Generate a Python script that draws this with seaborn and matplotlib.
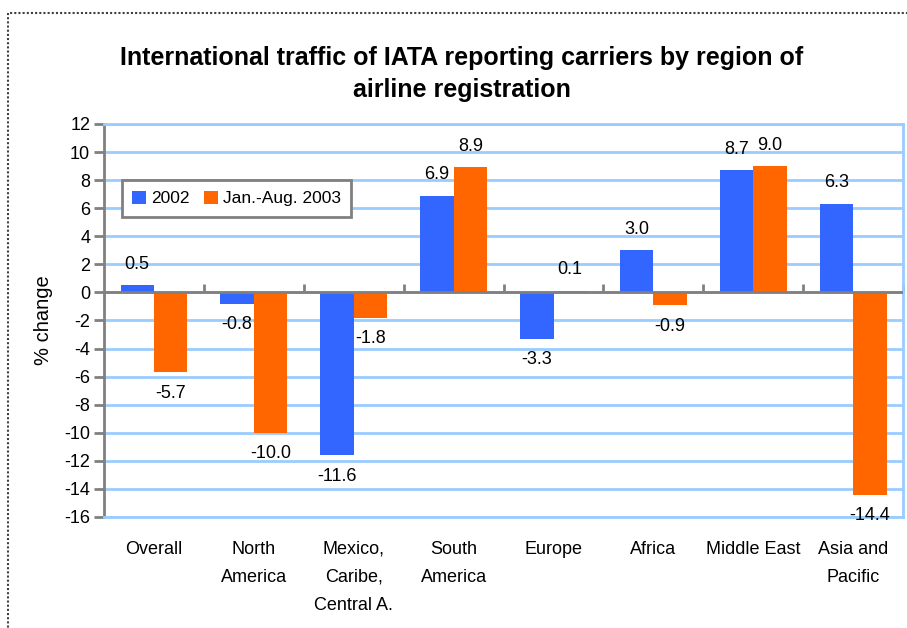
import matplotlib
matplotlib.use("Agg")
import matplotlib.pyplot as plt
import seaborn as sns
import pandas as pd
from matplotlib.patches import Rectangle

# data
regions = ["Overall", "North\nAmerica", "Mexico,\nCaribe,\nCentral A.", "South\nAmerica",
           "Europe", "Africa", "Middle East", "Asia and\nPacific"]
series = ["2002", "Jan.-Aug. 2003"]
change_2002 = [0.5, -0.8, -11.6, 6.9, -3.3, 3.0, 8.7, 6.3]
change_2003 = [-5.7, -10.0, -1.8, 8.9, 0.1, -0.9, 9.0, -14.4]
y_ticks = list(range(-16, 13, 2))

df = pd.DataFrame({
    "region": regions * 2,
    "period": [series[0]] * len(regions) + [series[1]] * len(regions),
    "change": change_2002 + change_2003,
})

sns.set_style("white")
plt.rcParams["font.family"] = ["Liberation Sans", "DejaVu Sans"]
plt.rcParams["axes.unicode_minus"] = False
plt.rcParams["text.color"] = "black"
plt.rcParams["axes.labelcolor"] = "black"
plt.rcParams["xtick.color"] = "black"
plt.rcParams["ytick.color"] = "black"

fig = plt.figure(figsize=(9.07, 6.28), dpi=100)
ax = fig.add_axes([0.1147, 0.1768, 0.881, 0.6258])

sns.barplot(data=df, x="region", y="change", hue="period",
            palette=["#3366FF", "#FF6600"], width=0.67, gap=0,
            saturation=1, errorbar=None, ax=ax, zorder=2, linewidth=0)

ax.set_ylim(y_ticks[0], y_ticks[-1])
ax.set_xlim(-0.5, len(regions) - 0.5)
ax.set_yticks(y_ticks)
ax.grid(axis="y", color="#99CCFF", lw=2)
ax.grid(axis="x", visible=False)
ax.set_axisbelow(True)

for side in ["top", "right", "bottom"]:
    ax.spines[side].set_color("#99CCFF")
    ax.spines[side].set_linewidth(2)
ax.spines["left"].set_color("#808080")
ax.spines["left"].set_linewidth(2)

ax.tick_params(axis="y", left=True, length=7, width=2, color="#808080", labelsize=13, pad=3)
ax.tick_params(axis="x", length=0, pad=17, labelsize=13)
for lbl in ax.get_xticklabels():
    lbl.set_linespacing(1.85)
    lbl.set_verticalalignment("top")

# zero line with category separators
ax.axhline(0, color="#808080", lw=2, zorder=3)
zero_pos = -y_ticks[0] / (y_ticks[-1] - y_ticks[0])
secax = ax.secondary_xaxis(zero_pos)
secax.set_xticks([i + 0.5 for i in range(len(regions))])
secax.set_xticklabels([])
secax.tick_params(length=6, width=2, color="#808080")
secax.spines["bottom"].set_visible(False)

ax.set_xlabel("")
ax.set_ylabel("% change", fontsize=14.5, labelpad=8)

for c in ax.containers:
    ax.bar_label(c, fmt="%.1f", padding=9, fontsize=13)

leg = ax.legend(title=None, loc="upper left", bbox_to_anchor=(0.0225, 0.857),
                borderaxespad=0, ncol=2, fancybox=False, framealpha=1,
                edgecolor="#808080", handlelength=0.8, handleheight=0.8,
                handletextpad=0.3, columnspacing=0.8, fontsize=12.5,
                borderpad=0.6)
leg.get_frame().set_linewidth(2)

fig.text(0.509, 0.882,
         "International traffic of IATA reporting carriers by region of\nairline registration",
         ha="center", va="center", fontsize=18, fontweight="bold", linespacing=1.45)

border = Rectangle((8 / 907, -0.1), 1.2, 1 - 13 / 628 + 0.1, transform=fig.transFigure,
                   fill=False, ls=(0, (1, 1)), color="#404040", lw=1.5)
fig.add_artist(border)

fig.savefig("out.png", dpi=100)
